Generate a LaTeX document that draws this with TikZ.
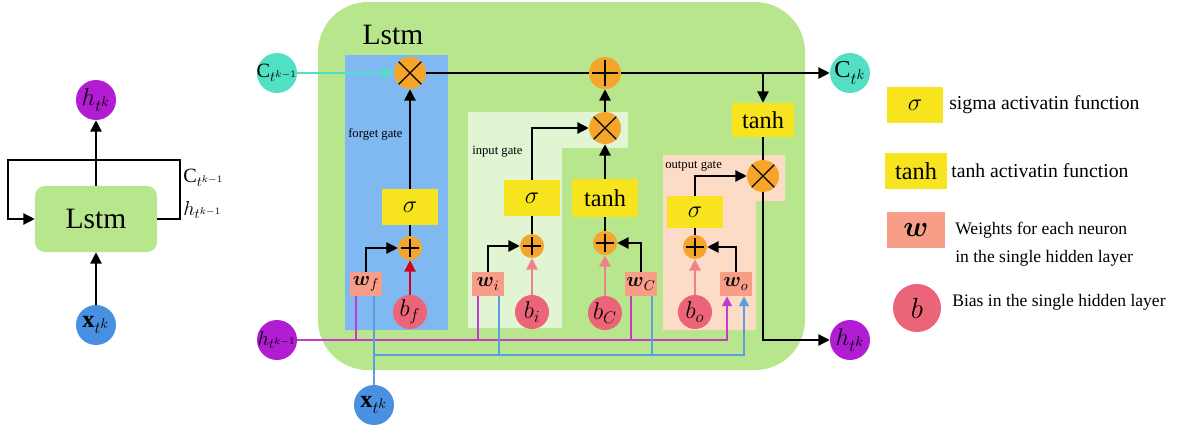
\documentclass[tikz,border=0pt]{standalone}
\usepackage{fontspec}
\setmainfont{Liberation Serif}
\usepackage{amsmath}
\usetikzlibrary{arrows.meta,calc,positioning}
\definecolor{LGreen}{HTML}{B8E68C}
\definecolor{FBlue}{HTML}{80B8F2}
\definecolor{IGreen}{HTML}{E2F5D2}
\definecolor{OPeach}{HTML}{FCDCC6}
\definecolor{AOrange}{HTML}{F5A52A}
\definecolor{AYellow}{HTML}{F7E41E}
\definecolor{WSalmon}{HTML}{F79D88}
\definecolor{BPink}{HTML}{EC6478}
\definecolor{HPurple}{HTML}{B21CD2}
\definecolor{CTeal}{HTML}{52E0C4}
\definecolor{XBlue}{HTML}{4A90E2}
\definecolor{HWire}{HTML}{C43CCC}
\definecolor{XWire}{HTML}{5A9EE0}
\definecolor{BRed}{HTML}{D0021B}
\definecolor{BArrow}{HTML}{F0808C}

\begin{document}
\begin{tikzpicture}[x=0.025cm,y=-0.025cm,
  arr/.style={-{Triangle[length=8pt,width=8pt]},line width=1pt},
  lnk/.style={line width=1pt},
  wtip/.style={-{Triangle[length=7pt,width=7pt]}},
  ionode/.style={circle,minimum size=1cm,inner sep=0pt,font=\fontsize{17.28}{18}\selectfont},
  opnode/.style={circle,fill=AOrange,inner sep=0pt},
  opmul/.style={opnode,minimum size=0.8cm,path picture={
    \draw[line width=0.9pt] (path picture bounding box.north east)--(path picture bounding box.south west)
      (path picture bounding box.north west)--(path picture bounding box.south east);}},
  opadd/.style={opnode,path picture={
    \draw[line width=0.9pt] ([yshift=-2pt]path picture bounding box.north)--([yshift=2pt]path picture bounding box.south)
      ([xshift=2pt]path picture bounding box.west)--([xshift=-2pt]path picture bounding box.east);}},
  actbox/.style={fill=AYellow,minimum width=1.4cm,minimum height=0.88cm,inner sep=0pt,font=\fontsize{17.28}{18}\selectfont},
  wbox/.style={fill=WSalmon,minimum width=0.82cm,minimum height=0.6cm,inner sep=0pt,font=\fontsize{14.4}{15}\selectfont},
  biasnode/.style={circle,fill=BPink,minimum size=0.85cm,inner sep=0pt,font=\fontsize{17.28}{18}\selectfont},
  gatelab/.style={font=\fontsize{9}{10}\selectfont,anchor=west,inner sep=0pt},
  legtxt/.style={anchor=west,inner sep=0pt,align=left,font=\fontsize{12.5}{20}\selectfont},
  hwire/.style={HWire,line width=0.9pt},
  xwire/.style={XWire,line width=0.9pt}]
  \useasboundingbox (0,0) rectangle (1186,435);
  % folded cell
  \node[rectangle,rounded corners=0.25cm,fill=LGreen,minimum width=3.05cm,minimum height=1.65cm,
    font=\fontsize{21}{24}\selectfont] (lstmL) at (96,219) {Lstm};
  \node[ionode,fill=HPurple] (hL) at (96,100) {$h_{t^k}$};
  \node[ionode,fill=XBlue] (xL) at (96,325) {$\mathbf{x}_{t^k}$};
  \draw[arr] (lstmL.north) -- (hL.south);
  \draw[arr] (xL.north) -- (lstmL.south);
  \coordinate (loopR) at (180,160);
  \coordinate (loopL) at (8,160);
  \draw[arr] (lstmL.east) -| (loopR) -- (loopL) |- (lstmL.west);
  \node[anchor=west,inner sep=0pt,font=\fontsize{14.4}{15}\selectfont] (cLab) at (183,178) {$\mathrm{C}_{t^{k-1}}$};
  \node[anchor=west,inner sep=0pt,font=\fontsize{14.4}{15}\selectfont] (hLab) at (183,210) {$h_{t^{k-1}}$};
  % unfolded cell
  \fill[LGreen,rounded corners=1.25cm] (318,2) rectangle (805,370);
  \node[font=\fontsize{21}{24}\selectfont] (title) at (393,35) {Lstm};
  \fill[FBlue] (345,55) rectangle (448,330);
  \fill[IGreen] (468,112) -- (628,112) -- (628,148) -- (562,148) -- (562,328) -- (468,328) -- cycle;
  \fill[OPeach] (663,155) -- (785,155) -- (785,201) -- (756,201) -- (756,330) -- (663,330) -- cycle;
  \node[gatelab] (fLab) at (348,134) {forget gate};
  \node[gatelab] (iLab) at (472,152) {input gate};
  \node[gatelab] (oLab) at (665,166) {output gate};
  \node[ionode,fill=CTeal,inner sep=-6pt,font=\fontsize{14.4}{15}\selectfont] (cin) at (277,73) {$\mathrm{C}_{t^{k-1}}$};
  \node[ionode,fill=HPurple,inner sep=-6pt,font=\fontsize{14.4}{15}\selectfont] (hin) at (277,340) {$h_{t^{k-1}}$};
  \node[ionode,fill=XBlue] (xin) at (374,405) {$\mathbf{x}_{t^k}$};
  \node[ionode,fill=CTeal] (cout) at (850,73) {$\mathrm{C}_{t^k}$};
  \node[ionode,fill=HPurple] (hout) at (850,340) {$h_{t^k}$};
  \node[opmul] (mulF) at (410,73) {};
  \node[opadd,minimum size=0.8cm] (plusT) at (605,73) {};
  \node[opmul] (mulI) at (605,128) {};
  \node[opmul] (mulO) at (763,176) {};
  \node[actbox] (sigF) at (410,207) {$\sigma$};
  \node[actbox] (sigI) at (532,198) {$\sigma$};
  \node[actbox,minimum width=1.65cm,minimum height=0.95cm] (tanhI) at (605,198) {tanh};
  \node[actbox,minimum height=0.8cm] (sigO) at (695,212) {$\sigma$};
  \node[actbox,minimum width=1.55cm,minimum height=0.85cm] (tanhO) at (763,120) {tanh};
  \node[opadd,minimum size=0.6cm] (addF) at (410,248) {};
  \node[opadd,minimum size=0.6cm] (addI) at (532,246) {};
  \node[opadd,minimum size=0.6cm] (addC) at (605,243) {};
  \node[opadd,minimum size=0.6cm] (addO) at (695,247) {};
  \node[wbox] (Wf) at (366,284) {$\boldsymbol{w}_f$};
  \node[wbox] (Wi) at (488,284) {$\boldsymbol{w}_i$};
  \node[wbox] (WC) at (641,284) {$\boldsymbol{w}_C$};
  \node[wbox] (Wo) at (736,284) {$\boldsymbol{w}_o$};
  \node[biasnode] (bf) at (410,312) {$b_f$};
  \node[biasnode] (bi) at (532,312) {$b_i$};
  \node[biasnode] (bC) at (605,313) {$b_C$};
  \node[biasnode] (bo) at (695,312) {$b_o$};
  % cell state and output
  \draw[arr,CTeal] (cin.east) -- (mulF.west);
  \draw[lnk] (mulF.east) -- (plusT.west);
  \draw[arr] (plusT.east) -- (cout.west);
  \draw[arr] (tanhO.north |- plusT) -- (tanhO.north);
  \draw[lnk] (tanhO.south) -- (mulO.north);
  \draw[arr] (mulO.south) |- (hout.west);
  % forget gate
  \draw[arr] (sigF.north) -- (mulF.south);
  \draw[lnk] (addF.north) -- (sigF.south);
  \draw[arr] (Wf.north) |- (addF.west);
  \draw[arr,BRed] (bf.north) -- (addF.south);
  % input gate
  \draw[arr] (mulI.north) -- (plusT.south);
  \draw[arr] (sigI.north) |- (mulI.west);
  \draw[arr] (tanhI.north) -- (mulI.south);
  \draw[lnk] (addI.north) -- (sigI.south);
  \draw[arr] (Wi.north) |- (addI.west);
  \draw[arr,BArrow] (bi.north) -- (addI.south);
  \draw[lnk] (addC.north) -- (tanhI.south);
  \draw[arr] (WC.north) |- (addC.east);
  \draw[arr,BArrow] (bC.north) -- (addC.south);
  % output gate
  \draw[arr] (sigO.north) |- (mulO.west);
  \draw[lnk] (addO.north) -- (sigO.south);
  \draw[arr] (Wo.north) |- (addO.east);
  \draw[arr,BArrow] (bo.north) -- (addO.south);
  % inputs to the weights
  \draw[hwire,wtip] (hin.east) -| ($(Wo.south)+(-9,0)$);
  \foreach \w in {Wf,Wi,WC}
    \draw[hwire] ($(\w.south)+(-10,0)$) |- (hin.east);
  \coordinate (xbus) at (xin.north |- 0,355);
  \draw[xwire] (xin.north) -- ($(Wf.south)+(8,0)$);
  \draw[xwire,wtip] (xbus) -| ($(Wo.south)+(8,0)$);
  \foreach \w in {Wi,WC}
    \draw[xwire] ($(\w.south)+(11,0)$) |- (xbus);
  % legend
  \node[actbox] (lgS) at (915,105) {$\sigma$};
  \node[legtxt,font=\fontsize{14}{16}\selectfont] (lgSt) at (949,105) {sigma activatin function};
  \node[actbox,minimum width=1.55cm] (lgT) at (916,171) {tanh};
  \node[legtxt,font=\fontsize{14}{16}\selectfont] (lgTt) at (951,171) {tanh activatin function};
  \node[wbox,minimum width=1.45cm,minimum height=0.88cm,font=\fontsize{20.74}{22}\selectfont] (lgW) at (916,230) {$\boldsymbol{w}$};
  \node[legtxt] (lgWt) at (955,244) {Weights for each neuron\\in the single hidden layer};
  \node[biasnode,minimum size=1.2cm,font=\fontsize{20.74}{22}\selectfont] (lgB) at (917,308) {$b$};
  \node[legtxt] (lgBt) at (952,302) {Bias in the single hidden layer};
\end{tikzpicture}
\end{document}
